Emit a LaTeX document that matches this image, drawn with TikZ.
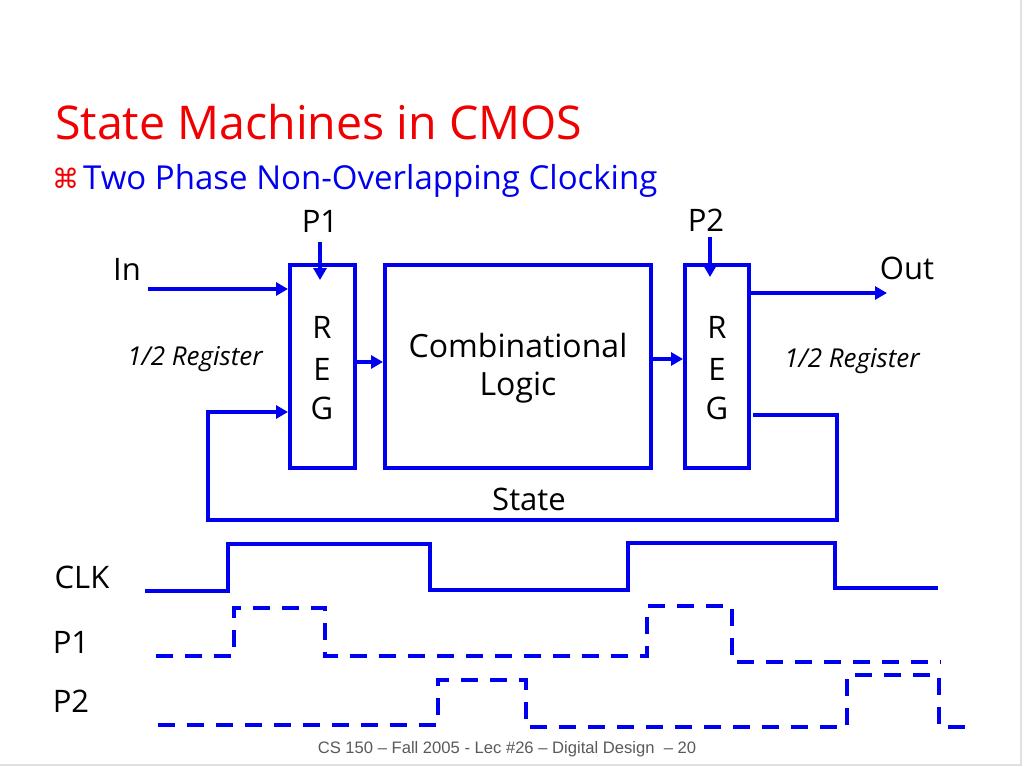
\documentclass[tikz,border=0pt]{standalone}
\usepackage{fontspec}
\setmainfont{Open Sans}
\newfontfamily\dejavu{DejaVu Sans}
\newfontfamily\footfont{Liberation Sans}
\usetikzlibrary{arrows.meta}
\definecolor{pblue}{RGB}{0,0,240}
\definecolor{pred}{RGB}{240,0,0}
\definecolor{pgray}{RGB}{90,90,90}
\begin{document}
\begin{tikzpicture}[x=1pt,y=-1pt,
  wire/.style={pblue,line width=4pt},
  arr/.style={wire,-{Triangle[length=12pt,width=13pt]}},
  box/.style={draw=pblue,line width=4pt,inner sep=0pt,rectangle},
  lbl/.style={font=\fontsize{31}{36}\selectfont,inner sep=0pt,anchor=base},
  reglbl/.style={font=\fontsize{26}{30}\selectfont\itshape,inner sep=0pt,anchor=base},
  wave/.style={pblue,line width=4pt},
  dwave/.style={pblue,line width=4pt,dash pattern=on 17pt off 12pt}]
\useasboundingbox (0,0) rectangle (1024,767);
\fill[white] (0,0) rectangle (1024,767);
\draw[black!12,line width=1.5pt] (1021,0) -- (1021,765) -- (0,765);

% titles
\node[anchor=base west,inner sep=0pt,text=pred,font=\fontsize{46.5}{52}\selectfont] (title) at (55,140) {State Machines in CMOS};
\node[anchor=base west,inner sep=0pt,text=pred,font=\dejavu\fontsize{27}{32}\selectfont] (cmd) at (52,189) {⌘};
\node[anchor=base west,inner sep=0pt,text=pblue,font=\fontsize{33}{38}\selectfont] (sub) at (83,190) {Two Phase Non-Overlapping Clocking};

% boxes
\node[box,minimum width=65pt,minimum height=203pt] (reg1) at (322.5,366.5) {};
\node[box,minimum width=266pt,minimum height=203pt] (comb) at (518,366.5) {};
\node[box,minimum width=64pt,minimum height=203pt] (reg2) at (717,366.5) {};

% box texts
\node[lbl] (r1R) at (322,338) {R};
\node[lbl] (r1E) at (322,380) {E};
\node[lbl] (r1G) at (322,419) {G};
\node[lbl] (r2R) at (717,338) {R};
\node[lbl] (r2E) at (717,380) {E};
\node[lbl] (r2G) at (717,419) {G};
\node[lbl,font=\fontsize{32}{38}\selectfont] (comb1) at (518,357) {Combinational};
\node[lbl,font=\fontsize{32}{38}\selectfont] (comb2) at (518,395) {Logic};

% labels
\node[lbl] (p1lbl) at (320,233) {P1};
\node[lbl] (p2lbl) at (706,232) {P2};
\node[lbl] (inlbl) at (127,280) {In};
\node[lbl] (outlbl) at (907,279) {Out};
\node[lbl] (state) at (529,510) {State};
\node[reglbl] (half1) at (195,365) {1/2 Register};
\node[reglbl] (half2) at (852,367) {1/2 Register};

% connectors
\coordinate (inS) at (148,289);
\coordinate (outE) at (887,293);
\coordinate (p1s) at (320,242);
\coordinate (p2s) at (710,237);
\coordinate (fbR) at (837,520);
\coordinate (fbL) at (208,520);
\draw[arr] (inS) -- (reg1.west |- inS);
\draw[arr] (reg2.east |- outE) -- (outE);
\draw[arr] (p1s) -- ++(0,38);
\draw[arr] (p2s) -- ++(0,40);
\draw[arr] ([yshift=4.5pt]reg1.east) -- ([yshift=4.5pt]comb.west);
\draw[arr] ([yshift=7.5pt]comb.east) -- ([yshift=7.5pt]reg2.east -| reg2.west);
\draw[arr] ([xshift=2pt,yshift=-48.5pt]reg2.east) -| (fbR) -- (fbL) |- ([yshift=-45.5pt]reg1.west);

% timing labels
\node[lbl] (clklbl) at (82,588) {CLK};
\node[lbl] (tp1) at (71,653) {P1};
\node[lbl] (tp2) at (71,712) {P2};

% waveforms
\draw[wave] (145,591) -- (228,591) -- (228,544) -- (430,544) -- (430,590) -- (628,590) -- (628,543) -- (835,543) -- (835,588) -- (938,588);
\draw[dwave] (156,656) -- (234,656) -- (234,608) -- (325,608) -- (325,656) -- (647,656) -- (647,606) -- (732,606) -- (732,662) -- (941,662);
\draw[dwave] (158,725) -- (438,725) -- (438,680) -- (526,680) -- (526,727) -- (847,727) -- (847,675) -- (939,675) -- (939,727) -- (970,727);

% footer
\node[anchor=base,inner sep=0pt,font=\footfont\fontsize{16.6}{18}\selectfont,text=pgray] (foot) at (507,753) {CS 150 – Fall 2005 - Lec \#26 – Digital Design \ – 20};
\end{tikzpicture}
\end{document}
